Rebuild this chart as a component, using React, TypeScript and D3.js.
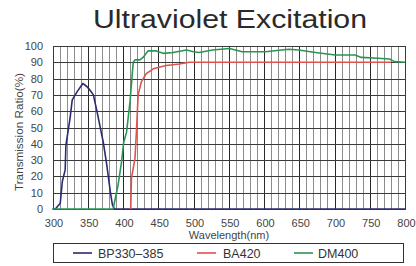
import React from 'react';
import * as d3 from 'd3';

const width = 416;
const height = 266;

// BP330-385 excitation filter
const bpWave = [300, 304, 311, 314, 318, 319, 325, 328, 335, 343, 349, 353, 358, 363, 372, 377, 382, 385, 388, 800];
const bpValue = [0, 0, 3.5, 17, 24, 39, 56, 67, 72, 77, 75, 73, 70, 60, 41, 27, 10.6, 2.5, 0, 0];

// BA420 barrier filter
const baWave = [411, 412, 417, 419, 421.5, 426, 433, 443, 461, 480, 494, 780];
const baValue = [0, 19, 31, 47, 70, 78, 83, 86, 88, 89, 90, 90];

// DM400 dichroic mirror
const dmWave = [300, 386, 393, 398, 401, 405, 410, 414.5, 417, 424, 428.5, 435.5, 447, 457, 471, 490, 500, 508, 527, 551, 569, 602, 635, 649, 673, 701, 729, 738, 762, 778, 785, 800];
const dmValue = [0, 0, 14.7, 29, 41, 47, 66, 90, 91.5, 91.5, 93, 97, 97, 95.5, 96, 97.5, 96.5, 96, 97.5, 98.5, 96.5, 96.5, 98, 97.5, 96, 94.5, 94.5, 93, 92.5, 92, 90.4, 90];

const xTicks = [300, 350, 400, 450, 500, 550, 600, 650, 700, 750, 800];
const yTicks = [0, 10, 20, 30, 40, 50, 60, 70, 80, 90, 100];

const series = [
  { name: 'BP330\u2013385', color: '#2b2b72', wave: bpWave, value: bpValue },
  { name: 'BA420', color: '#e0534c', wave: baWave, value: baValue },
  { name: 'DM400', color: '#2a9455', wave: dmWave, value: dmValue },
];

const App: React.FC = () => {
  const x = d3.scaleLinear().domain([300, 800]).range([52.5, 405]);
  const y = d3.scaleLinear().domain([0, 100]).range([209, 46]);
  const minor = d3.range(300, 801, 10);

  const line = d3
    .line<[number, number]>()
    .x(d => x(d[0]))
    .y(d => y(d[1]));

  const font = "'Liberation Sans', Arial, sans-serif";

  return (
    <svg
      width={width}
      height={height}
      style={{ position: 'absolute', left: 0, top: 0, background: '#fff' }}
      fontFamily={font}
    >
      <text
        x={93}
        y={28}
        fontSize={25}
        fill="#2a2a2a"
        textLength={274}
        lengthAdjust="spacingAndGlyphs"
      >
        Ultraviolet Excitation
      </text>

      <g shapeRendering="crispEdges">
        {minor.map(v => (
          <line
            key={'v' + v}
            x1={Math.round(x(v)) + 0.5}
            x2={Math.round(x(v)) + 0.5}
            y1={y(0)}
            y2={y(100)}
            stroke={v % 50 === 0 ? '#2a2a2a' : '#8c8c8c'}
            strokeWidth={1}
          />
        ))}
        {yTicks.map(v => (
          <line
            key={'h' + v}
            x1={x(300)}
            x2={x(800)}
            y1={Math.round(y(v)) + 0.5}
            y2={Math.round(y(v)) + 0.5}
            stroke="#3a3a3a"
            strokeWidth={1}
          />
        ))}
        <rect
          x={Math.round(x(300)) + 0.5}
          y={Math.round(y(100)) + 0.5}
          width={Math.round(x(800)) - Math.round(x(300))}
          height={Math.round(y(0)) - Math.round(y(100))}
          fill="none"
          stroke="#3a3a3a"
          strokeWidth={1}
        />
      </g>

      {series.map(s => (
        <path
          key={s.name}
          d={line(s.wave.map((w, i) => [w, s.value[i]] as [number, number])) || ''}
          fill="none"
          stroke={s.color}
          strokeWidth={1.6}
          strokeLinejoin="round"
        />
      ))}

      {yTicks.map(v => (
        <text key={'yl' + v} x={43} y={y(v) + 4} textAnchor="end" fontSize={11} fill="#444">
          {v}
        </text>
      ))}
      {xTicks.map(v => (
        <text key={'xl' + v} x={x(v) + 1.5} y={227} textAnchor="middle" fontSize={11} fill="#444">
          {v}
        </text>
      ))}
      <text x={229} y={239} textAnchor="middle" fontSize={11} fill="#444">
        Wavelength(nm)
      </text>
      <text
        transform={`translate(23,${132}) rotate(-90)`}
        textAnchor="middle"
        fontSize={11}
        fill="#444"
        textLength={118}
        lengthAdjust="spacingAndGlyphs"
      >
        Transmission Ratio(%)
      </text>

      <rect x={53.5} y={243.5} width={350} height={19} fill="#fff" stroke="#333" strokeWidth={1} shapeRendering="crispEdges" />
      {series.map((s, i) => {
        const lx = [73, 197, 294][i];
        const tx = [98, 223, 318][i];
        return (
          <g key={'lg' + s.name}>
            <line x1={lx} x2={lx + 19} y1={253} y2={253} stroke={s.color} strokeWidth={1.6} />
            <text x={tx} y={257.5} fontSize={12.5} fill="#333">
              {s.name}
            </text>
          </g>
        );
      })}
    </svg>
  );
};

export default App;
